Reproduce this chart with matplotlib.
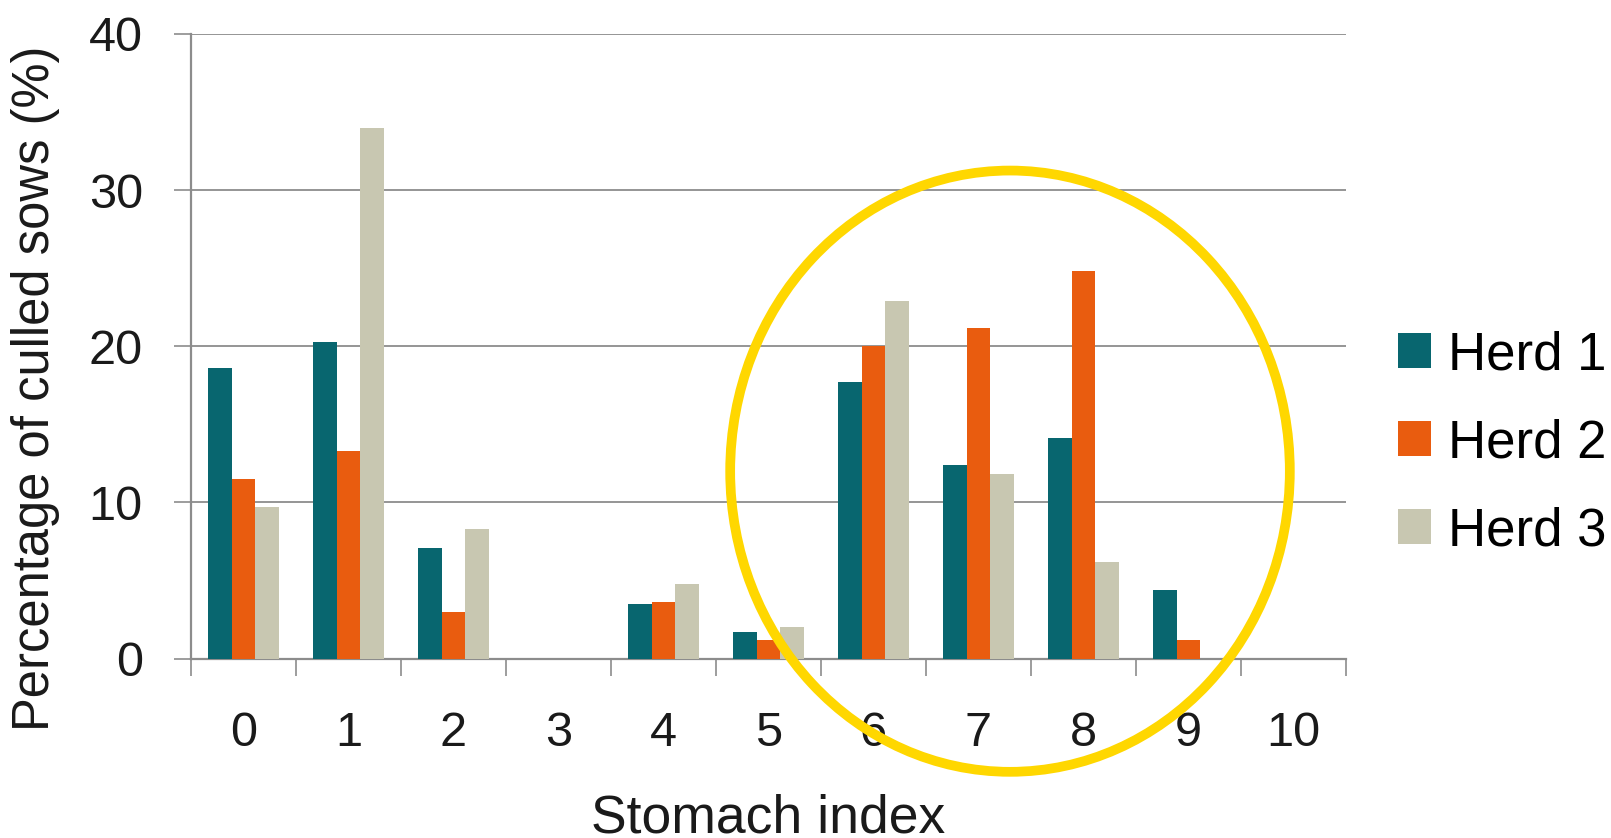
import numpy as np
import matplotlib.pyplot as plt
from matplotlib.patches import Ellipse

plt.rcParams['font.family'] = ['Liberation Sans', 'DejaVu Sans']

stomach_index = [0, 1, 2, 3, 4, 5, 6, 7, 8, 9, 10]
herd1 = [18.6, 20.3, 7.1, 0, 3.5, 1.7, 17.7, 12.4, 14.1, 4.4, 0]
herd2 = [11.5, 13.3, 3.0, 0, 3.6, 1.2, 20.0, 21.2, 24.8, 1.2, 0]
herd3 = [9.7, 34.0, 8.3, 0, 4.8, 2.0, 22.9, 11.8, 6.2, 0, 0]
labels = ["Herd 1", "Herd 2", "Herd 3"]
colors = ["#08666f", "#e95c0f", "#c8c7b1"]

W, H = 1611, 838
fig = plt.figure(figsize=(W / 100, H / 100), dpi=100)
ax = fig.add_axes([191 / W, 1 - 658.6 / H, 1155 / W, 624.7 / H])

x = np.arange(len(stomach_index))
bw = 0.225
for i, (vals, lab, c) in enumerate(zip([herd1, herd2, herd3], labels, colors)):
    ax.bar(x + (i - 1) * bw, vals, bw, color=c, label=lab, zorder=3)

grey = "#8c8c8c"
ax.set_xlim(-0.5, 10.5)
ax.set_ylim(0, 40)
ax.set_yticks([0, 10, 20, 30, 40])
ax.set_xticks(x)
ax.set_xticklabels([str(v) for v in stomach_index])
ax.set_xticks(np.arange(-0.5, 11, 1), minor=True)
ax.grid(axis='y', color=grey, linewidth=1.3, zorder=0)
for s in ['top', 'right']:
    ax.spines[s].set_visible(False)
for s in ['left', 'bottom']:
    ax.spines[s].set_color(grey)
    ax.spines[s].set_linewidth(1.6)
ax.tick_params(axis='x', which='major', length=0, pad=38, labelsize=35, labelcolor="#1a1a1a")
ax.tick_params(axis='x', which='minor', length=12.2, width=1.2, color=grey)
ax.tick_params(axis='y', length=12.2, width=1.2, color=grey, pad=22.5, labelsize=35, labelcolor="#1a1a1a")

fig.text(36 / W, 1 - 388 / H, "Percentage of culled sows (%)", rotation=90,
         ha='center', va='center', fontsize=36.5, color="#1a1a1a")
fig.text(768.5 / W, 1 - 832 / H, "Stomach index", ha='center', va='baseline',
         fontsize=38.5, color="#1a1a1a")

ax.legend(loc='center left', bbox_to_anchor=(1398 / W, 1 - 443 / H), bbox_transform=fig.transFigure,
          frameon=False, fontsize=38, handlelength=0.625, handleheight=0.625,
          handletextpad=0.32, labelspacing=0.72, borderpad=0, borderaxespad=0)

# highlight circle
ax.add_patch(Ellipse((7.3, 12.0), 5.33, 38.5, fill=False, edgecolor="#ffd700",
                     linewidth=7, clip_on=False, zorder=5))

fig.savefig("out.png", dpi=100)
